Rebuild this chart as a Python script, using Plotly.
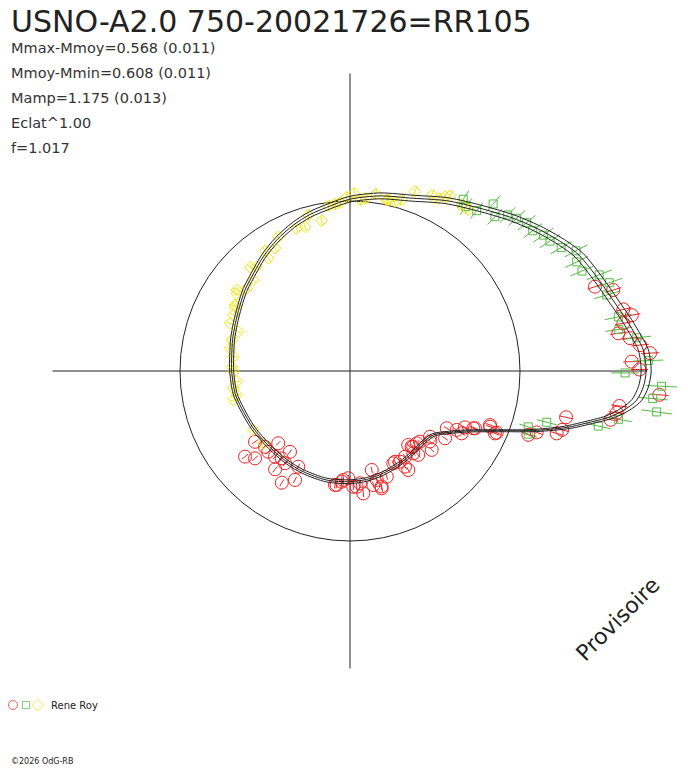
import plotly.graph_objects as go

# ---------------- data ----------------
title_text = "USNO-A2.0 750-20021726=RR105"
stats_lines = [
    "Mmax-Mmoy=0.568 (0.011)",
    "Mmoy-Mmin=0.608 (0.011)",
    "Mamp=1.175 (0.013)",
    "Eclat^1.00",
    "f=1.017",
]
observer = "Rene Roy"
watermark = "Provisoire"
copyright_text = "\u00a92026 OdG-RB"
f_env = 1.017  # envelope factor

# fitted mean curve (phase angle in degrees, relative flux)
curve_theta = [0, 4.1, 6.8, 10.4, 15.3, 20, 26.8, 30.9, 36.6, 43.1, 51.4, 60.4, 69.9,
               80.3, 88.9, 92.3, 98.2, 104.4, 111.2, 119.2, 127.2, 137.7, 142.4, 149.7,
               157.5, 165, 173.1, 180, 191, 199, 210.6, 223.4, 235.1, 245.1, 257.9, 270,
               278.8, 288, 298.4, 307.6, 314, 322.5, 328.5, 332.8, 338.3, 342, 345.4,
               347.5, 350, 352.3, 354.2, 356.9, 360]
curve_r = [1.742, 1.73, 1.698, 1.655, 1.60, 1.56, 1.51, 1.462, 1.392, 1.315, 1.225, 1.152,
           1.082, 1.045, 1.015, 1.0, 0.972, 0.95, 0.921, 0.883, 0.844, 0.795, 0.78, 0.752,
           0.73, 0.715, 0.701, 0.696, 0.689, 0.674, 0.661, 0.650, 0.651, 0.653, 0.656,
           0.651, 0.645, 0.633, 0.618, 0.606, 0.600, 0.618, 0.69, 0.772, 0.95, 1.134,
           1.317, 1.42, 1.553, 1.642, 1.695, 1.728, 1.742]

# series 1 (red circles)
red_theta = [19.0, 17.1, 12.7, 11.2, 9.9, 8.0, 6.7, 5.1, 3.4, 1.9, 0.3, 355.6, 352.6, 351.1,
             349.4, 347.9, 344.5, 343.2, 341.8, 340.3, 338.9, 337.2, 335.4, 333.9, 330.8,
             329.4, 324.7, 320.6, 316.0, 314.7, 312.7, 309.9, 309.2, 308.2, 307.6, 302.7,
             300.5, 299.9, 298.9, 295.1, 285.1, 283.8, 282.4, 281.6, 276.2, 275.1, 271.6,
             269.0, 265.7, 262.5, 243.2, 241.6, 238.6, 234.8, 233.4, 232.7, 232.0, 228.8,
             225.2, 222.6, 221.7, 219.2, 216.7, 263.3, 266.5, 273.3, 285.3, 289.2, 296.4,
             309.1, 318.6, 331.1, 335.1, 338.3, 336.7, 224.6]
red_r = [1.524, 1.62, 1.648, 1.69, 1.632, 1.594, 1.658, 1.713, 1.768, 1.658, 1.702, 1.825,
         1.598, 1.588, 1.56, 1.30, 1.295, 1.27, 1.156, 1.114, 0.883, 0.936, 0.809, 0.753,
         0.752, 0.661, 0.685, 0.609, 0.668, 0.585, 0.579, 0.58, 0.574, 0.554, 0.611, 0.599,
         0.676, 0.649, 0.609, 0.60, 0.715, 0.66, 0.596, 0.685, 0.724, 0.663, 0.681, 0.631,
         0.653, 0.676, 0.718, 0.64, 0.77, 0.664, 0.592, 0.727, 0.652, 0.67, 0.599, 0.759,
         0.67, 0.797, 0.697, 0.675, 0.642, 0.682, 0.704, 0.658, 0.596, 0.636, 0.627, 0.717,
         0.80, 0.887, 0.928, 0.676]
red_err = 0.03  # relative error

# series 2 (green squares)
green_theta = [56.6, 54.8, 51.7, 49.4, 46.8, 44.7, 42.5, 40.0, 37.5, 35.1, 33.0, 30.3, 28.0,
               25.7, 23.3, 21.1, 18.8, 16.5, 11.4, 8.8, 6.6, 2.0, 359.6, 357.2, 354.8,
               352.4, 349.8, 347.5, 345.4, 342.6, 340.5]
green_r = [1.21, 1.183, 1.202, 1.294, 1.245, 1.305, 1.33, 1.357, 1.355, 1.39, 1.403, 1.438,
           1.506, 1.48, 1.486, 1.571, 1.611, 1.575, 1.61, 1.60, 1.698, 1.756, 1.618, 1.835,
           1.788, 1.82, 1.604, 1.496, 1.196, 1.099, 1.112]
green_err = 0.05

# series 3 (yellow diamonds)
yellow_theta = [53.8, 56.1, 60.3, 61.4, 62.9, 65.1, 70.1, 73.2, 75.1, 77.4, 77.9, 81.7, 84.7,
                86.4, 88.7, 91.1, 93.4, 95.1, 97.5, 100.7, 105.0, 107.3, 110.5, 118.1,
                121.4, 125.2, 125.9, 131.8, 133.9, 136.7, 141.3, 144.4, 145.6, 150.1,
                150.8, 154.4, 158.3, 160.6, 165.3, 169.3, 173.0, 177.9, 180.3, 185.4,
                188.4, 192.0, 194.0, 211.4, 219.8]
yellow_r = [1.178, 1.177, 1.186, 1.168, 1.141, 1.141, 1.122, 1.051, 1.031, 1.031, 1.029,
            1.052, 1.02, 1.008, 1.045, 1.022, 0.992, 0.986, 0.979, 0.90, 0.95, 0.889, 0.896,
            0.895, 0.846, 0.866, 0.819, 0.823, 0.847, 0.781, 0.778, 0.819, 0.808, 0.78,
            0.775, 0.761, 0.76, 0.697, 0.719, 0.718, 0.692, 0.696, 0.686, 0.669, 0.694,
            0.681, 0.707, 0.666, 0.664]
yellow_err = 0.03

# ---------------- styling ----------------
OFF = 8                      # page body margin of the rendered html
W, H = 688 - OFF, 768 - OFF
CX, CY = 350 - OFF, 371 - OFF   # pixel centre of the polar plot (figure coords)
PX_PER_UNIT = 170.0
R_MAX = 1.98
CROSS_R = 1.75
INK = "#222222"
RED, GREEN, YELLOW = "#ee2222", "#55bb44", "#f5e600"
FONT = "DejaVu Sans"


def err_segments(theta, r, rel):
    th, rr = [], []
    for t, v in zip(theta, r):
        th += [t, t, None]
        rr += [v * (1 - rel), v * (1 + rel), None]
    return th, rr


fig = go.Figure()

# cross-hair
fig.add_trace(go.Scatterpolar(r=[CROSS_R, 0, CROSS_R], theta=[0, 0, 180], mode="lines",
                              line=dict(color=INK, width=1), hoverinfo="skip"))
fig.add_trace(go.Scatterpolar(r=[CROSS_R, 0, CROSS_R], theta=[90, 90, 270], mode="lines",
                              line=dict(color=INK, width=1), hoverinfo="skip"))

series = [
    (red_theta, red_r, red_err, RED, "circle-open", 13),
    (green_theta, green_r, green_err, GREEN, "square-open", 8),
    (yellow_theta, yellow_r, yellow_err, YELLOW, "diamond-open", 9),
]
for th, rr, er, col, sym, sz in series:
    eth, err = err_segments(th, rr, er)
    fig.add_trace(go.Scatterpolar(r=err, theta=eth, mode="lines",
                                  line=dict(color=col, width=1), hoverinfo="skip"))
for th, rr, er, col, sym, sz in series:
    fig.add_trace(go.Scatterpolar(r=rr, theta=th, mode="markers",
                                  marker=dict(symbol=sym, size=sz, color=col,
                                              line=dict(color=col, width=1))))

# fitted curve and envelopes
for k in (f_env, 1.0 / f_env, 1.0):
    fig.add_trace(go.Scatterpolar(r=[v * k for v in curve_r], theta=curve_theta,
                                  mode="lines",
                                  line=dict(color=INK, width=1, shape="spline", smoothing=0.8),
                                  hoverinfo="skip"))

# legend swatches on a hidden pixel-space axis
fig.add_trace(go.Scatter(x=[13 - OFF, 26 - OFF, 38 - OFF], y=[705 - OFF] * 3, mode="markers",
                         marker=dict(symbol=["circle-open", "square-open", "diamond-open"],
                                     size=[9, 7, 9], color=[RED, GREEN, YELLOW],
                                     line=dict(width=1)),
                         xaxis="x", yaxis="y", hoverinfo="skip"))

R_PX = R_MAX * PX_PER_UNIT
fig.update_layout(
    width=W, height=H,
    margin=dict(l=0, r=0, t=0, b=0),
    paper_bgcolor="white",
    plot_bgcolor="rgba(0,0,0,0)",
    showlegend=False,
    polar=dict(
        domain=dict(x=[(CX - R_PX) / W, (CX + R_PX) / W],
                    y=[(H - CY - R_PX) / H, (H - CY + R_PX) / H]),
        bgcolor="rgba(0,0,0,0)",
        radialaxis=dict(range=[0, R_MAX], tickvals=[1], showticklabels=False, ticks="",
                        showline=False, showgrid=True, gridcolor=INK, gridwidth=1),
        angularaxis=dict(showgrid=False, showline=False, ticks="", showticklabels=False,
                         rotation=0, direction="counterclockwise"),
    ),
    xaxis=dict(range=[0, W], visible=False, domain=[0, 1], fixedrange=True),
    yaxis=dict(range=[H, 0], visible=False, domain=[0, 1], fixedrange=True),
)


def ann(text, x, y, size, xanchor="left", angle=0, color="#222222"):
    fig.add_annotation(text=text, x=(x - OFF) / W, y=1 - (y - OFF) / H,
                       xref="paper", yref="paper",
                       xanchor=xanchor, yanchor="middle", showarrow=False, textangle=angle,
                       font=dict(family=FONT, size=size, color=color))


ann(title_text, 9, 21.5, 30)
for line, yc in zip(stats_lines, [48, 73, 98, 123, 148]):
    ann(line, 9, yc, 14.5, color="#333333")
ann(watermark, 617, 619, 22, xanchor="center", angle=-45)
ann(observer, 49, 705, 10)
ann(copyright_text, 9, 761, 8)

fig.write_html("out.html")
